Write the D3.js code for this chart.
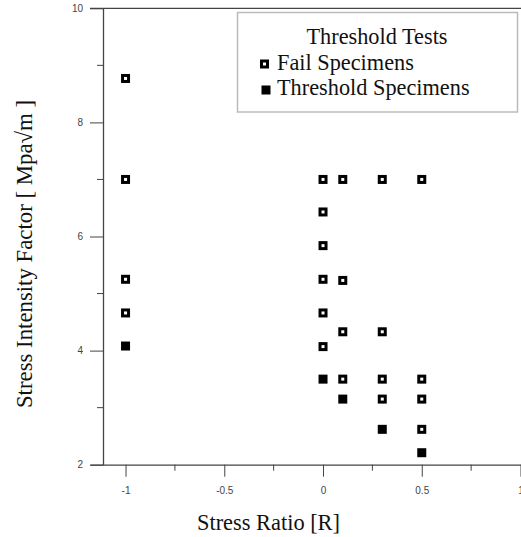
<!DOCTYPE html>
<meta charset="utf-8">
<html>
<head>
<style>
body { margin: 0; background: #fff; }
.tick text { font-family: "Liberation Sans", Arial, sans-serif; font-size: 10px; fill: #444; }
.axis path, .axis line { stroke: #444; }
.title { font-family: "Liberation Serif", "Times New Roman", serif; fill: #111; }
</style>
</head>
<body>
<svg width="521" height="537"></svg>
<script src="https://cdn.jsdelivr.net/npm/d3@7/dist/d3.min.js"></script>
<script>

// fail specimens (open squares)
var failR = [-1, -1, -1, -1,  0, 0, 0, 0, 0, 0,  0.1, 0.1, 0.1, 0.1,  0.3, 0.3, 0.3, 0.3,  0.5, 0.5, 0.5, 0.5];
var failK = [8.77, 7.0, 5.25, 4.66,  7.0, 6.43, 5.84, 5.25, 4.66, 4.07,  7.0, 5.23, 4.33, 3.5,  7.0, 4.33, 3.5, 3.15,  7.0, 3.5, 3.15, 2.62];

// threshold specimens (filled squares)
var threshR = [-1, 0, 0.1, 0.3, 0.5];
var threshK = [4.08, 3.5, 3.15, 2.62, 2.21];

var xTicks = [-1, -0.5, 0, 0.5, 1];
var xMinor = [-0.75, -0.25, 0.25, 0.75];
var yTicks = [2, 4, 6, 8, 10];
var yMinor = [3, 5, 7, 9];

var legendTitle = "Threshold Tests";
var legendItems = ["Fail Specimens", "Threshold Specimens"];

var svg = d3.select("svg");

var x = d3.scaleLinear().domain([-1.18, 1]).range([90, 520.5]);
var y = d3.scaleLinear().domain([2, 10]).range([464.7, 8.3]);
var yAxisX = 103;

// top frame line
svg.append("line")
    .attr("x1", 90).attr("x2", 521)
    .attr("y1", y(10)).attr("y2", y(10))
    .attr("stroke", "#444").attr("stroke-width", 1.3);

// x axis
var gx = svg.append("g").attr("class", "axis")
    .attr("transform", "translate(0," + y(2) + ")")
    .call(d3.axisBottom(x).tickValues(xTicks).tickSize(12).tickSizeOuter(0).tickPadding(10)
        .tickFormat(function(d){ return String(d); }));
gx.select(".domain").attr("stroke-width", 1.3);
gx.selectAll(".minor").data(xMinor).enter().append("line")
    .attr("class", "minor")
    .attr("x1", function(d){ return x(d); }).attr("x2", function(d){ return x(d); })
    .attr("y1", 0).attr("y2", 6)
    .attr("stroke", "#444");

// y axis
var gy = svg.append("g").attr("class", "axis")
    .attr("transform", "translate(" + yAxisX + ",0)")
    .call(d3.axisLeft(y).tickValues(yTicks).tickSize(13).tickSizeOuter(0).tickPadding(7));
gy.select(".domain").attr("stroke-width", 1.3);
gy.selectAll(".minor").data(yMinor).enter().append("line")
    .attr("class", "minor")
    .attr("y1", function(d){ return y(d); }).attr("y2", function(d){ return y(d); })
    .attr("x1", 0).attr("x2", -6)
    .attr("stroke", "#444");

// points
var fail = failR.map(function(r, i){ return {r: r, k: failK[i]}; });
var thresh = threshR.map(function(r, i){ return {r: r, k: threshK[i]}; });

svg.selectAll(".fail").data(fail).enter().append("rect")
    .attr("class", "fail")
    .attr("x", function(d){ return x(d.r) - 3; })
    .attr("y", function(d){ return y(d.k) - 3; })
    .attr("width", 6).attr("height", 6)
    .attr("fill", "#fff").attr("stroke", "#000").attr("stroke-width", 3);

svg.selectAll(".thresh").data(thresh).enter().append("rect")
    .attr("class", "thresh")
    .attr("x", function(d){ return x(d.r) - 4.5; })
    .attr("y", function(d){ return y(d.k) - 4.5; })
    .attr("width", 9).attr("height", 9)
    .attr("fill", "#000");

// axis titles
svg.append("text").attr("class", "title")
    .attr("x", 268.5).attr("y", 530)
    .attr("text-anchor", "middle")
    .style("font-size", "22.4px")
    .text("Stress Ratio [R]");

svg.append("text").attr("class", "title")
    .attr("transform", "translate(32,254) rotate(-90)")
    .attr("text-anchor", "middle")
    .style("font-size", "22.8px")
    .text("Stress Intensity Factor [ Mpa\u221Am ]");

// legend
var lg = svg.append("g");
lg.append("rect")
    .attr("x", 237.5).attr("y", 12.5).attr("width", 280).attr("height", 99.5)
    .attr("fill", "#fff").attr("stroke", "#bbb").attr("stroke-width", 1.5);
lg.append("text").attr("class", "title")
    .attr("x", 377).attr("y", 44)
    .attr("text-anchor", "middle")
    .style("font-size", "22.3px")
    .text(legendTitle);
lg.selectAll(".lt").data(legendItems).enter().append("text")
    .attr("class", "title lt")
    .attr("x", 277).attr("y", function(d, i){ return 69.5 + i * 25.5; })
    .style("font-size", "22.3px")
    .text(function(d){ return d; });
lg.append("rect")
    .attr("x", 261.5).attr("y", 61).attr("width", 6).attr("height", 6)
    .attr("fill", "#fff").attr("stroke", "#000").attr("stroke-width", 3);
lg.append("rect")
    .attr("x", 261.5).attr("y", 85.5).attr("width", 9).attr("height", 9)
    .attr("fill", "#000");

</script>
</body>
</html>
